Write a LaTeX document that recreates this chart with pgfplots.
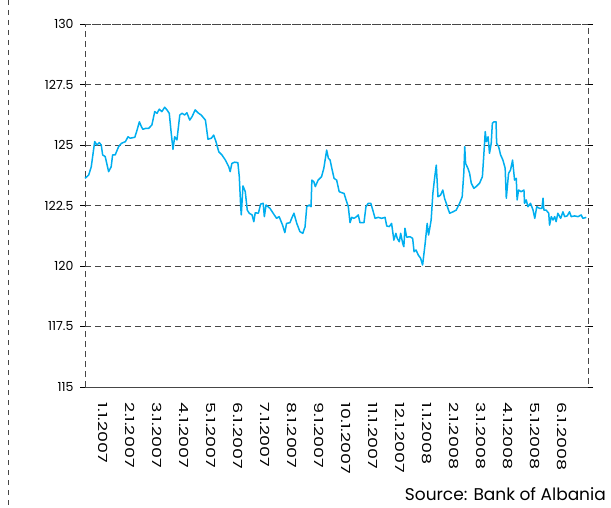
\documentclass[border=0pt]{standalone}
\usepackage{fontspec}
\setmainfont{Poppins}
\usepackage{pgfplots}
\pgfplotsset{compat=1.18}
\definecolor{serie}{RGB}{0,174,239}
\definecolor{gridc}{RGB}{70,70,70}
\begin{document}
\begin{tikzpicture}[x=1pt,y=1pt]
\useasboundingbox (0,0) rectangle (611,507);
\draw[gridc, line width=0.8pt, dash pattern=on 5pt off 5pt] (8,507) -- (8,0);
\begin{axis}[
  at={(85pt,120pt)}, anchor=south west,
  scale only axis, width=503pt, height=363pt,
  xmin=0, xmax=17.67, ymin=115, ymax=130,
  axis line style={gridc, line width=0.8pt, dash pattern=on 6pt off 4pt},
  ytick={115,117.5,...,130},
  ymajorgrids,
  grid style={gridc, line width=0.8pt, dash pattern=on 6pt off 4pt},
  tick align=outside,
  major tick length=5pt, minor tick length=4pt,
  ytick style={black, line width=0.6pt},
  xtick style={draw=none},
  minor xtick={0,1,...,17},
  minor x tick style={black, line width=0.6pt},
  xtick={0.62,1.57,2.52,3.47,4.42,5.37,6.32,7.27,8.22,9.17,10.12,11.07,12.02,12.97,13.92,14.87,15.82,16.77},
  xticklabels={1.1.2007,2.1.2007,3.1.2007,4.1.2007,5.1.2007,6.1.2007,7.1.2007,8.1.2007,9.1.2007,10.1.2007,11.1.2007,12.1.2007,1.1.2008,2.1.2008,3.1.2008,4.1.2008,5.1.2008,6.1.2008},
  xticklabel shift=6pt,
  xticklabel style={rotate=-90, xscale=1.4, anchor=west, font=\fontsize{12.5}{14}\selectfont},
  yticklabel style={font=\fontsize{12.5}{14}\selectfont, xshift=-3pt},
  /pgf/number format/assume math mode=true,
  clip=false,
]
\addplot[serie, line width=1.5pt, line join=round] coordinates {
(0.00,123.62) (0.13,123.76) (0.22,124.10) (0.34,125.14) (0.42,125.00) (0.50,125.10) (0.57,125.00) (0.62,124.59) (0.71,124.52) (0.83,123.90)
(0.92,124.10) (0.97,124.59) (1.06,124.59) (1.18,124.93) (1.28,125.07) (1.42,125.14) (1.51,125.34) (1.59,125.28) (1.75,125.32) (1.83,125.62)
(1.91,125.96) (1.98,125.76) (2.03,125.65) (2.14,125.69) (2.24,125.69) (2.35,125.83) (2.45,126.38) (2.53,126.31) (2.61,126.48) (2.70,126.38)
(2.80,126.56) (2.88,126.45) (2.96,126.31) (3.03,125.48) (3.09,124.82) (3.15,125.34) (3.23,125.21) (3.33,126.24) (3.41,126.31) (3.50,126.24)
(3.58,126.33) (3.68,126.03) (3.76,126.17) (3.87,126.45) (3.97,126.33) (4.08,126.24) (4.23,126.03) (4.32,125.24) (4.44,125.28) (4.52,125.41)
(4.60,125.14) (4.70,124.72) (4.81,124.59) (4.93,124.38) (5.05,124.10) (5.10,123.90) (5.16,124.24) (5.26,124.29) (5.37,124.27) (5.42,123.69)
(5.47,122.45) (5.49,122.11) (5.55,123.31) (5.63,123.07) (5.70,122.31) (5.77,122.18) (5.87,122.11) (5.93,121.83) (5.98,122.20) (6.09,122.18)
(6.17,122.56) (6.26,122.59) (6.30,122.04) (6.36,122.52) (6.50,122.38) (6.61,122.18) (6.73,121.97) (6.82,122.04) (6.94,121.69) (7.02,121.38)
(7.08,121.76) (7.20,121.79) (7.26,121.97) (7.34,122.18) (7.44,121.76) (7.55,121.42) (7.65,121.35) (7.73,121.62) (7.79,122.45) (7.88,122.52)
(7.94,122.45) (7.97,123.55) (8.04,123.48) (8.09,123.28) (8.19,123.55) (8.31,123.69) (8.39,124.04) (8.49,124.79) (8.55,124.45) (8.61,124.38)
(8.67,124.04) (8.75,123.62) (8.84,123.55) (8.93,123.07) (9.02,123.03) (9.10,123.00) (9.19,122.66) (9.25,122.45) (9.31,121.79) (9.37,122.01)
(9.45,121.97) (9.54,122.04) (9.60,122.11) (9.66,121.79) (9.80,121.79) (9.87,122.45) (9.95,122.59) (10.04,122.59) (10.11,122.31) (10.19,121.97)
(10.30,122.01) (10.42,121.97) (10.54,122.01) (10.60,121.65) (10.69,121.63) (10.77,121.76) (10.85,121.07) (10.92,121.35) (10.97,121.14) (11.04,121.00)
(11.09,121.35) (11.16,120.94) (11.20,120.80) (11.24,121.56) (11.30,121.19) (11.42,121.21) (11.51,121.14) (11.56,120.59) (11.63,120.66) (11.71,120.45)
(11.79,120.32) (11.86,120.04) (11.95,120.94) (12.02,121.76) (12.07,121.28) (12.16,121.90) (12.22,123.00) (12.28,123.62) (12.34,124.17) (12.40,122.86)
(12.49,122.93) (12.57,123.14) (12.63,122.80) (12.73,122.45) (12.81,122.18) (12.93,122.24) (13.04,122.31) (13.16,122.59) (13.25,122.86) (13.31,123.90)
(13.34,124.93) (13.37,124.24) (13.45,124.04) (13.51,123.83) (13.57,123.42) (13.66,123.21) (13.74,123.28) (13.86,123.42) (13.96,123.69) (14.01,124.59)
(14.06,125.55) (14.10,125.14) (14.16,125.34) (14.21,124.66) (14.27,125.07) (14.31,125.90) (14.37,125.96) (14.44,125.96) (14.46,125.07) (14.53,124.93)
(14.60,124.59) (14.68,124.38) (14.76,124.04) (14.80,122.80) (14.88,123.83) (14.95,123.97) (15.02,124.38) (15.09,123.55) (15.15,123.62) (15.18,122.73)
(15.23,123.14) (15.32,123.07) (15.42,123.14) (15.44,122.59) (15.50,122.73) (15.56,122.45) (15.65,122.59) (15.74,122.31) (15.80,121.97) (15.87,122.45)
(15.97,122.38) (16.05,122.38) (16.09,122.80) (16.12,122.31) (16.20,122.31) (16.29,122.18) (16.32,121.69) (16.38,122.04) (16.44,121.90) (16.50,122.04)
(16.55,121.83) (16.61,122.18) (16.71,121.97) (16.79,122.24) (16.85,122.04) (16.94,122.07) (17.02,122.24) (17.08,122.04) (17.20,122.07) (17.32,122.04)
(17.43,122.11) (17.49,121.97) (17.61,122.01)
};
\end{axis}
\node[anchor=base east, inner sep=0pt, font=\fontsize{17}{20}\selectfont] at (606,7) {Source: Bank of Albania};
\end{tikzpicture}
\end{document}
